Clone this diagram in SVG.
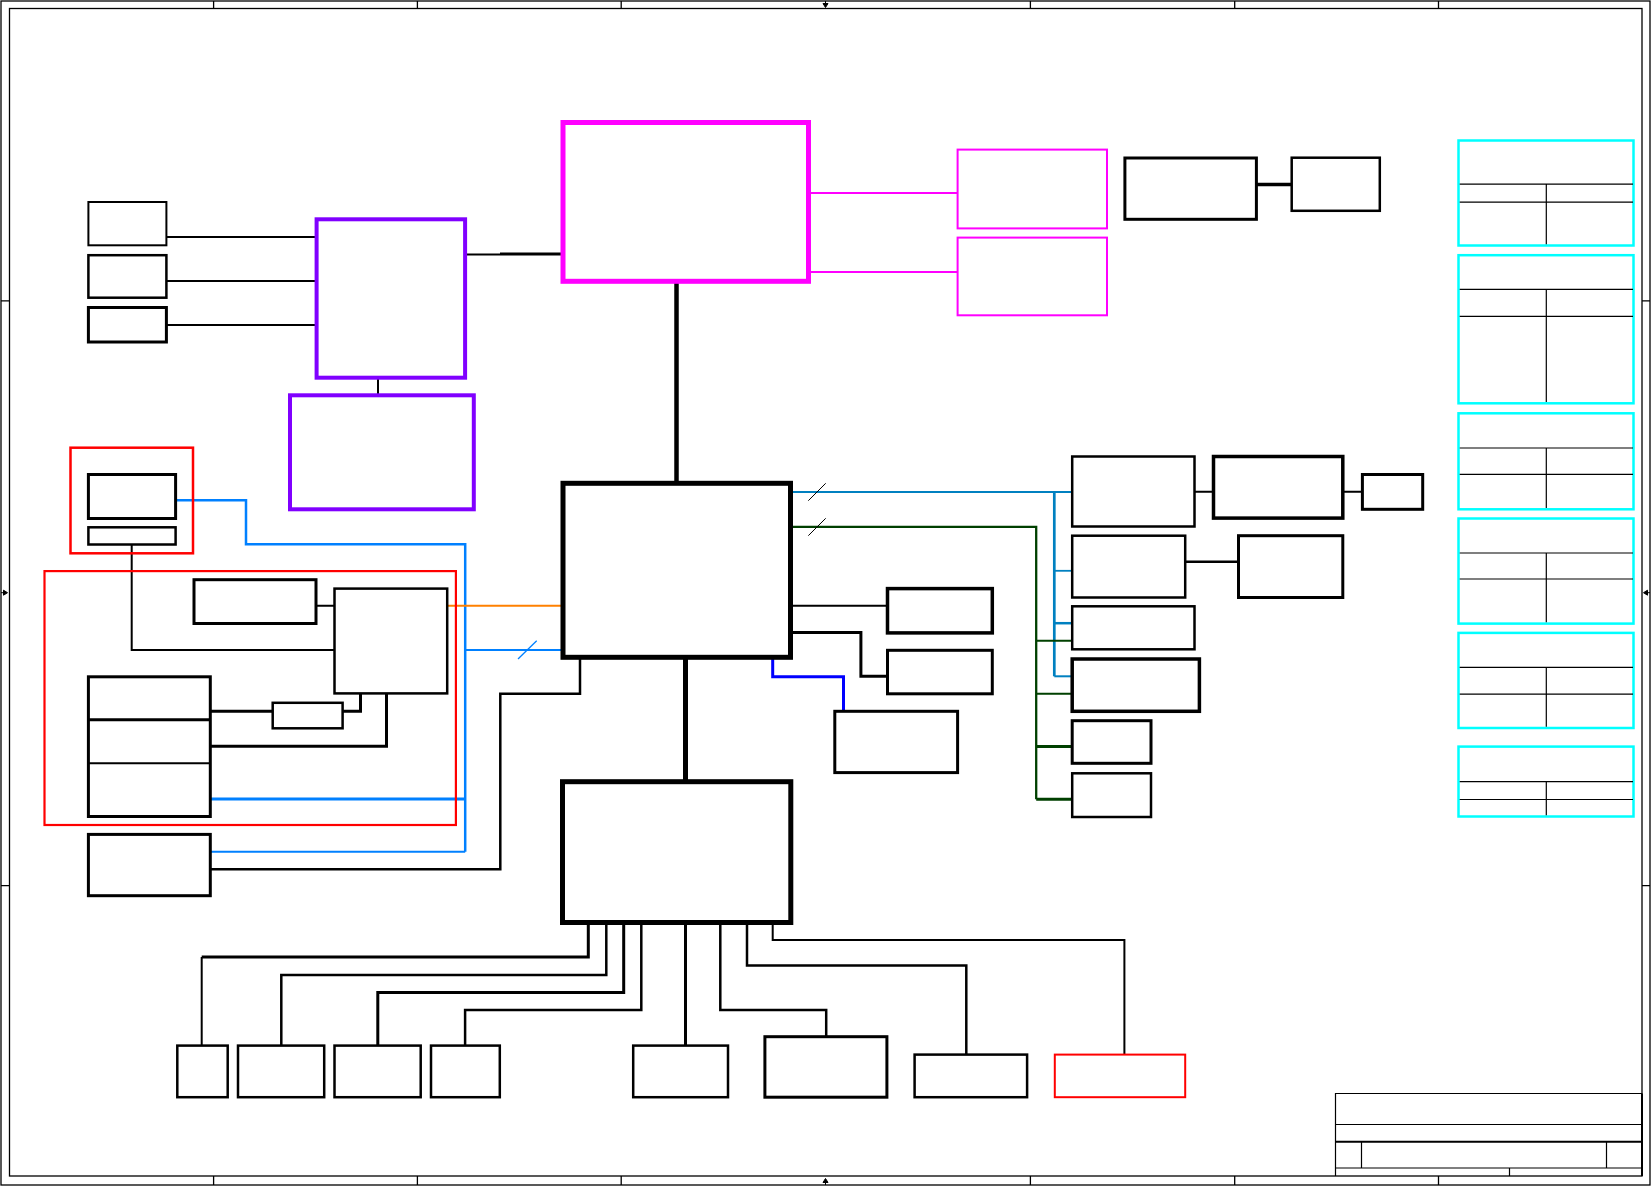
<svg xmlns="http://www.w3.org/2000/svg" width="1652" height="1187" viewBox="0 0 1652 1187">
<style>
.bx{fill:none;stroke:#000}
.mg{fill:none;stroke:#ff00ff}
.pu{fill:none;stroke:#8000ff}
.rd{fill:none;stroke:#ff0000}
.cy{fill:none;stroke:#00ffff;stroke-width:2.5}
.tl{fill:none;stroke:#000;stroke-width:1.2}
.k{fill:none;stroke:#000}
.az{fill:none;stroke:#0080ff}
.sb{fill:none;stroke:#0080c0}
.gr{fill:none;stroke:#004000}
.fr{fill:none;stroke:#000;stroke-width:1.3}
</style>
<rect width="1652" height="1187" fill="#fff"/>
<g id="frame">
<rect class="fr" x="1" y="1" width="1649" height="1184"/>
<rect class="fr" x="9.5" y="8.5" width="1632.5" height="1167.5"/>
<path class="fr" d="M213.6,1V8.5M417.4,1V8.5M621.2,1V8.5M1030.4,1V8.5M1234.7,1V8.5M1438.5,1V8.5M213.6,1176V1185M417.4,1176V1185M621.2,1176V1185M1030.4,1176V1185M1234.7,1176V1185M1438.5,1176V1185M1,300.8H9.5M1,885.6H9.5M1642,300.8H1650M1642,885.6H1650"/>
<path d="M825.5,1V4M823,3.5H828L825.5,7.5Z M825.5,1185V1182M823,1182.5H828L825.5,1178.5Z M1,592.7H4M3.5,590.2V595.2L7.5,592.7Z M1650,592.7H1647M1647.5,590.2V595.2L1643.5,592.7Z" fill="#000" stroke="#000" stroke-width="1"/>
</g>
<g id="connectors">
<path class="k" stroke-width="2" d="M166,237H317M166,281H317M166,325H317M378,377V395M465,254.5H500"/>
<path class="k" stroke-width="3" d="M500,254H563"/>
<path class="k" stroke-width="4.5" d="M676.5,281V483"/>
<path class="k" stroke-width="3.5" d="M1256,184.5H1292"/>
<path class="k" stroke-width="2" d="M131.7,544V650H334.5M316,605.7H334.5"/>
<path class="k" stroke-width="3" d="M210,711.3H272.7M342.6,711.3H360.5V693.4M210,746.2H386.5V693.4"/>
<path class="k" stroke-width="2.5" d="M210,869.3H500.3V693.8H580V658"/>
<path class="k" stroke-width="5" d="M685.5,658V781.7"/>
<path class="k" stroke-width="2" d="M790,605.7H887.5"/>
<path class="k" stroke-width="3" d="M790,632.5H860.9V676.3H887.5"/>
<path class="k" stroke-width="2" d="M1194.5,491.7H1213.5M1342.8,491.7H1362.4"/>
<path class="k" stroke-width="2.5" d="M1185.2,561.7H1238.5"/>
<path class="k" stroke-width="3" d="M588.3,922.5V957H201.7"/>
<path class="k" stroke-width="2" d="M201.7,957V1045.6"/>
<path class="k" stroke-width="2.5" d="M606.3,922.5V975H281.3V1045.6"/>
<path class="k" stroke-width="3" d="M623.7,922.5V992.4H377.8V1045.6"/>
<path class="k" stroke-width="2.5" d="M641.3,922.5V1009.9H465.1V1045.6"/>
<path class="k" stroke-width="3" d="M685.5,922.5V1045.6"/>
<path class="k" stroke-width="2.5" d="M720.3,922.5V1009.9H826.2V1036.7"/>
<path class="k" stroke-width="2.5" d="M747,922.5V965.6H966.3V1054.6"/>
<path class="k" stroke-width="2" d="M772.7,922.5V940H1124.4V1054.6"/>
<path class="az" stroke-width="2.5" d="M176,500.2H246V544.2H465.2V851.8"/>
<path class="az" stroke-width="2" d="M465.2,650H563"/>
<path class="az" stroke-width="1.3" d="M518,659L536.7,640.7"/>
<path class="az" stroke-width="3" d="M210,799H465.2"/>
<path class="az" stroke-width="2" d="M210,851.8H465.2"/>
<path fill="none" stroke="#ff8000" stroke-width="2" d="M447.2,605.7H563"/>
<path fill="none" stroke="#0000ff" stroke-width="3" d="M772.7,658V676.7H843.5V711.3"/>
<path class="sb" stroke-width="2" d="M790.5,492H1072.2"/>
<path class="sb" stroke-width="2.7" d="M1054.3,492V676.3"/>
<path class="sb" stroke-width="1.8" d="M1054.3,570.8H1072.2"/>
<path class="sb" stroke-width="2.5" d="M1054.3,623.2H1072.2"/>
<path class="sb" stroke-width="2" d="M1054.3,676.3H1072.2"/>
<path class="gr" stroke-width="2.3" d="M790.5,526.8H1036.2V799.3"/>
<path class="gr" stroke-width="2" d="M1036.2,640.8H1072.2M1036.2,693.7H1072.2"/>
<path class="gr" stroke-width="3" d="M1036.2,746.5H1072.2M1036.2,799.3H1072.2"/>
<path class="k" stroke-width="1" d="M808.3,500.7L825.7,483.3M808.3,535.7L825.7,518.3"/>
<path class="mg" stroke-width="2" d="M808,192.9H957.6M808,272.1H957.6"/>
</g>
<g id="n-mag-main"><rect class="mg" stroke-width="5" x="563" y="122.5" width="245.5" height="158.8"/></g>
<g id="n-mag-r1"><rect class="mg" stroke-width="2" x="957.6" y="149.6" width="149.4" height="78.8"/></g>
<g id="n-mag-r2"><rect class="mg" stroke-width="2" x="957.6" y="237.6" width="149.4" height="77.7"/></g>
<g id="n-pur1"><rect class="pu" stroke-width="4" x="316.6" y="219.3" width="148.5" height="158.4"/></g>
<g id="n-pur2"><rect class="pu" stroke-width="4" x="290" y="395.3" width="183.8" height="114"/></g>
<g id="n-a"><rect class="bx" stroke-width="2" x="88.4" y="202" width="78" height="43.3"/></g>
<g id="n-b"><rect class="bx" stroke-width="2.5" x="88.4" y="255.2" width="78" height="42.5"/></g>
<g id="n-c"><rect class="bx" stroke-width="3" x="88.4" y="307.5" width="78" height="34.5"/></g>
<g id="n-s"><rect class="bx" stroke-width="3" x="1124.9" y="158" width="131.5" height="61.3"/></g>
<g id="n-t"><rect class="bx" stroke-width="2.5" x="1291.7" y="157.7" width="88.1" height="53.1"/></g>
<g id="n-tab1"><rect class="cy" x="1458.5" y="140.5" width="175" height="105"/><path class="tl" d="M1459.7,184.2H1633M1459.7,202.2H1633M1546.3,184.2V244.3"/></g>
<g id="n-tab2"><rect class="cy" x="1458.5" y="255.2" width="175" height="148.1"/><path class="tl" d="M1459.7,289.3H1633M1459.7,316.3H1633M1546.3,289.3V402"/></g>
<g id="n-tab3"><rect class="cy" x="1458.5" y="413.3" width="175" height="96"/><path class="tl" d="M1459.7,448H1633M1459.7,474.4H1633M1546.3,448V508"/></g>
<g id="n-tab4"><rect class="cy" x="1458.5" y="518.5" width="175" height="105.1"/><path class="tl" d="M1459.7,553H1633M1459.7,579H1633M1546.3,553V622.3"/></g>
<g id="n-tab5"><rect class="cy" x="1458.5" y="632.9" width="175" height="95.1"/><path class="tl" d="M1459.7,667.3H1633M1459.7,694.2H1633M1546.3,667.3V726.7"/></g>
<g id="n-tab6"><rect class="cy" x="1458.5" y="746.6" width="175" height="69.9"/><path class="tl" d="M1459.7,781.6H1633M1459.7,799.5H1633M1546.3,781.6V815.2"/></g>
<g id="n-redsmall"><rect class="rd" stroke-width="2.5" x="70.5" y="447.7" width="122.5" height="105.6"/></g>
<g id="n-k1"><rect class="bx" stroke-width="3" x="88.4" y="474.5" width="87.2" height="44"/></g>
<g id="n-k2"><rect class="bx" stroke-width="2.5" x="88.4" y="527.3" width="87.2" height="17.2"/></g>
<g id="n-redlarge"><rect class="rd" stroke-width="2.2" x="44.5" y="571.1" width="411.4" height="253.9"/></g>
<g id="n-d"><rect class="bx" stroke-width="3" x="194" y="579.7" width="122" height="43.8"/></g>
<g id="n-e"><rect class="bx" stroke-width="2.5" x="334.5" y="588.6" width="112.7" height="104.8"/></g>
<g id="n-f"><rect class="bx" stroke-width="3" x="88.4" y="676.8" width="121.9" height="139.7"/><path class="k" stroke-width="3" d="M88.4,719.8H210.3"/><path class="k" stroke-width="2" d="M88.4,763.3H210.3"/></g>
<g id="n-g"><rect class="bx" stroke-width="2.5" x="272.7" y="702.8" width="69.9" height="25.5"/></g>
<g id="n-h"><rect class="bx" stroke-width="3" x="88.4" y="834.4" width="121.9" height="61.3"/></g>
<g id="n-chip"><rect class="bx" stroke-width="5" x="563" y="483.3" width="227.5" height="174"/></g>
<g id="n-chipset"><rect class="bx" stroke-width="5" x="562.5" y="781.7" width="228.3" height="140.8"/></g>
<g id="n-i"><rect class="bx" stroke-width="3" x="834.8" y="711.3" width="122.8" height="61.3"/></g>
<g id="n-aa"><rect class="bx" stroke-width="3.5" x="887.5" y="588.6" width="104.8" height="44.3"/></g>
<g id="n-ab"><rect class="bx" stroke-width="3" x="887.5" y="650.3" width="104.8" height="43.5"/></g>
<g id="n-u"><rect class="bx" stroke-width="2.5" x="1072.2" y="456.5" width="122.3" height="70"/></g>
<g id="n-u2"><rect class="bx" stroke-width="3.5" x="1213.5" y="456.5" width="129.3" height="61.6"/></g>
<g id="n-u3"><rect class="bx" stroke-width="3" x="1362.4" y="474.5" width="60.3" height="34.8"/></g>
<g id="n-v"><rect class="bx" stroke-width="2.5" x="1072.2" y="535.7" width="113" height="61.8"/></g>
<g id="n-v2"><rect class="bx" stroke-width="3" x="1238.5" y="535.7" width="104.3" height="61.8"/></g>
<g id="n-w"><rect class="bx" stroke-width="2.5" x="1072.2" y="606.3" width="122.3" height="43"/></g>
<g id="n-x"><rect class="bx" stroke-width="3.5" x="1072.2" y="659" width="127.2" height="52.3"/></g>
<g id="n-y"><rect class="bx" stroke-width="3" x="1072.2" y="720.7" width="78.8" height="42.6"/></g>
<g id="n-z"><rect class="bx" stroke-width="2.5" x="1072.2" y="773.3" width="78.8" height="43.7"/></g>
<g id="n-j"><rect class="bx" stroke-width="2.5" x="177.3" y="1045.6" width="50.4" height="51.6"/></g>
<g id="n-kk"><rect class="bx" stroke-width="2.5" x="238" y="1045.6" width="86.2" height="51.6"/></g>
<g id="n-l"><rect class="bx" stroke-width="2.5" x="334.5" y="1045.6" width="86.2" height="51.6"/></g>
<g id="n-m"><rect class="bx" stroke-width="2.5" x="431" y="1045.6" width="68.8" height="51.6"/></g>
<g id="n-n"><rect class="bx" stroke-width="2.5" x="633.2" y="1045.6" width="94.8" height="51.6"/></g>
<g id="n-o"><rect class="bx" stroke-width="3" x="764.9" y="1036.7" width="122" height="60.5"/></g>
<g id="n-p"><rect class="bx" stroke-width="2.5" x="914.6" y="1054.6" width="112.5" height="42.6"/></g>
<g id="n-q"><rect class="rd" stroke-width="2" x="1054.8" y="1054.6" width="130.4" height="42.6"/></g>
<g id="title-block">
<path class="tl" d="M1335.5,1176V1093.5H1642M1335.5,1124.5H1642M1335.5,1168H1642M1361.5,1141.8V1168M1606.5,1141.8V1168M1509.5,1168V1176"/>
<path class="k" stroke-width="2" d="M1335.5,1141.8H1642M1642,1093.5V1176"/>
</g>
</svg>
